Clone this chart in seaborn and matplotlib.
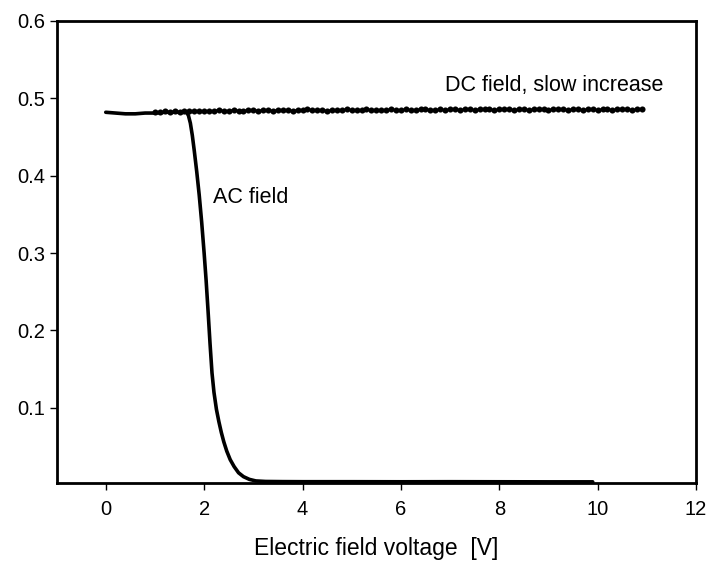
import numpy as np
import pandas as pd
import seaborn as sns
import matplotlib
matplotlib.use("Agg")
import matplotlib.pyplot as plt

# AC field curve
ac_x = [0.0, 0.2, 0.4, 0.6, 0.8, 1.0, 1.2, 1.4, 1.55, 1.64, 1.68, 1.72, 1.76,
        1.80, 1.85, 1.90, 1.95, 2.00, 2.04, 2.08, 2.12, 2.16, 2.20, 2.25, 2.30,
        2.35, 2.40, 2.46, 2.53, 2.61, 2.70, 2.80, 2.92, 3.05, 3.25, 3.6, 4.0,
        5.0, 6.0, 7.0, 8.0, 9.0, 9.9]
ac_y = [0.482, 0.481, 0.480, 0.480, 0.481, 0.481, 0.482, 0.482, 0.482, 0.482,
        0.478, 0.468, 0.452, 0.432, 0.405, 0.375, 0.340, 0.300, 0.265, 0.225,
        0.183, 0.145, 0.120, 0.098, 0.082, 0.068, 0.056, 0.044, 0.033, 0.024,
        0.016, 0.011, 0.0075, 0.0055, 0.0048, 0.0046, 0.0045, 0.0045, 0.0044,
        0.0045, 0.0044, 0.0043, 0.0043]

# DC field, slow increase (sampled every 0.1 V from 1.0 V to 10.9 V)
dc_x = np.round(np.arange(1.0, 10.95, 0.1), 2)
dc_y = [0.482, 0.482, 0.483, 0.482, 0.483, 0.482, 0.483, 0.483,
        0.484, 0.484, 0.483, 0.484, 0.484, 0.485, 0.484, 0.484, 0.485, 0.484,
        0.484, 0.485, 0.485, 0.484, 0.485, 0.485, 0.484, 0.485, 0.485, 0.485,
        0.484, 0.485, 0.485, 0.486, 0.485, 0.485, 0.485, 0.484, 0.485, 0.485,
        0.485, 0.486, 0.485, 0.485, 0.485, 0.486, 0.485, 0.485, 0.485, 0.485,
        0.486, 0.485, 0.485, 0.486, 0.485, 0.485, 0.486, 0.486, 0.485, 0.485,
        0.486, 0.485, 0.486, 0.486, 0.485, 0.486, 0.486, 0.485, 0.486, 0.486,
        0.486, 0.485, 0.486, 0.486, 0.486, 0.485, 0.486, 0.486, 0.485, 0.486,
        0.486, 0.486, 0.485, 0.486, 0.486, 0.486, 0.485, 0.486, 0.486, 0.485,
        0.486, 0.486, 0.485, 0.486, 0.486, 0.485, 0.486, 0.486, 0.486, 0.485,
        0.486, 0.486]

x_ticks = [0, 2, 4, 6, 8, 10, 12]
y_ticks = [0.1, 0.2, 0.3, 0.4, 0.5, 0.6]

sns.set_style("ticks")
plt.rcParams["font.family"] = ["Liberation Sans", "DejaVu Sans"]
plt.rcParams["text.color"] = "black"
plt.rcParams["axes.labelcolor"] = "black"

fig = plt.figure(figsize=(7.07, 5.64), dpi=100)
ax = fig.add_axes([0.080, 0.1436, 0.9045, 0.8192])

sns.lineplot(x=ac_x, y=ac_y, color="black", lw=2.6, ax=ax, sort=False)
sns.lineplot(x=dc_x[:len(dc_y)], y=dc_y, color="black", lw=1.2, marker="o",
             markersize=4.4, markeredgewidth=0, ax=ax, sort=False)

ax.set_xlim(-1, 12)
ax.set_ylim(0.0028, 0.6)
ax.set_xticks(x_ticks)
ax.set_yticks(y_ticks)
ax.set_yticklabels([f"{v:.1f}" for v in y_ticks])
ax.tick_params(direction="out", length=5, width=1, labelsize=14.5,
               colors="black")
ax.tick_params(axis="x", pad=7)
for s in ax.spines.values():
    s.set_visible(True)
    s.set_linewidth(2)
    s.set_color("black")

ax.text(2.18, 0.372, "AC field", fontsize=15.5, va="center", ha="left")
ax.text(6.89, 0.516, "DC field, slow increase", fontsize=15.5, va="center",
        ha="left")
ax.set_xlabel("Electric field voltage  [V]", fontsize=16.5, labelpad=13)
ax.set_ylabel("")

fig.savefig("out.png", dpi=100)
